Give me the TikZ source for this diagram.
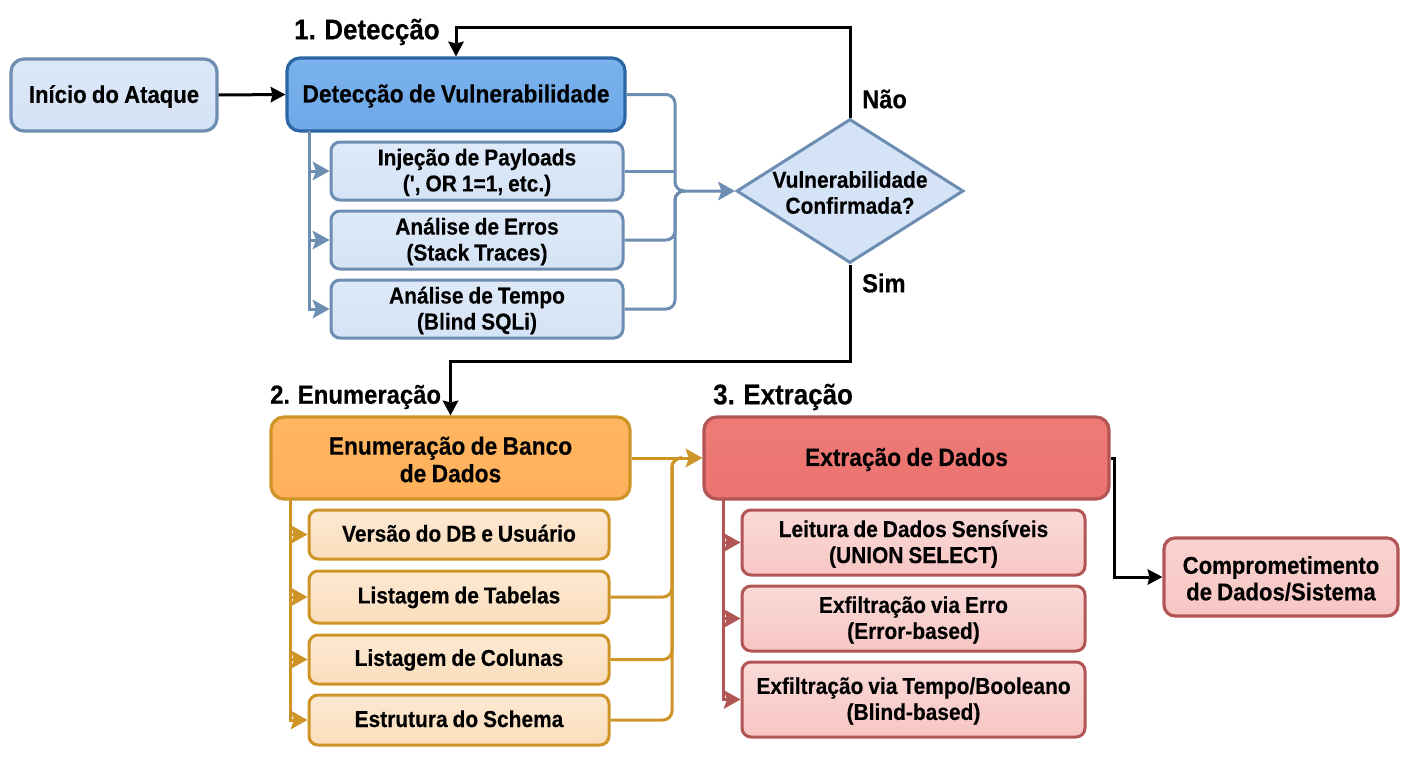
\documentclass[tikz,border=0pt]{standalone}
\usepackage{fontspec}
\setmainfont{Liberation Sans}[Ligatures=TeXOff,FakeStretch=0.91,WordSpace=0.85,BoldFeatures={FakeBold=0.3}]
\usetikzlibrary{arrows.meta,shapes.geometric,calc}
\definecolor{bl}{HTML}{6E8DB2}
\definecolor{bd}{HTML}{2A66A3}
\definecolor{og}{HTML}{CF9428}
\definecolor{rd}{HTML}{B25555}
\definecolor{blfill}{HTML}{D4E3F6}
\definecolor{ogfill}{HTML}{FBDDBB}
\definecolor{rdfill}{HTML}{F7C6C3}
\definecolor{bma}{HTML}{7AB2EE}
\definecolor{bmb}{HTML}{6FA8E8}
\definecolor{oma}{HTML}{FFB562}
\definecolor{omb}{HTML}{FFB05A}
\definecolor{rma}{HTML}{EE7A76}
\definecolor{rmb}{HTML}{EC7370}
\definecolor{cma}{HTML}{F9D2CF}
\tikzset{
 x=1pt,y=-1pt,
 main/.style={rounded corners=13pt,inner sep=0pt,line width=3.2pt},
 sub/.style={rounded corners=9pt,inner sep=0pt,line width=3pt},
 mainf/.style={align=center,inner sep=0pt,font=\fontsize{25}{27.5}\bfseries,text=black},
 endf/.style={align=center,inner sep=0pt,font=\fontsize{24.3}{26.5}\bfseries,text=black},
 subf/.style={align=center,inner sep=0pt,font=\fontsize{23}{26}\bfseries,text=black},
 lbl/.style={inner sep=0pt,font=\fontsize{28.5}{32}\bfseries,text=black},
 bsub/.style={sub,draw=bl,top color=blfill!75!white,bottom color=blfill},
 osub/.style={sub,draw=og,top color=ogfill!65!white,bottom color=ogfill},
 rsub/.style={sub,draw=rd,top color=rdfill!65!white,bottom color=rdfill},
 bconn/.style={draw=bl,line width=3pt,rounded corners=9pt},
 oconn/.style={draw=og,line width=3pt,rounded corners=9pt},
 rconn/.style={draw=rd,line width=3pt},
 barrow/.style={-{Stealth[length=17pt,width=19pt,inset=3.5pt,line width=0pt,fill=bl]}},
 oarrow/.style={-{Stealth[length=17pt,width=19pt,inset=3.5pt,line width=0pt,fill=og]}},
 rarrow/.style={-{Stealth[length=17pt,width=19pt,inset=3.5pt,line width=0pt,fill=rd]}},
 karrow/.style={draw=black,line width=3pt,-{Stealth[length=15pt,width=16pt,inset=2pt,line width=0pt]}},
}
\def\tyshift{-1.5pt}
% shape style, font style, name, x0, x1, y0, y1, text: the label sits in its own node, a little off the box centre
\newcommand{\bx}[8]{%
  \node[#1,minimum width=#5*1pt-#4*1pt,minimum height=#7*1pt-#6*1pt] (#3) at ({(#4+#5)/2},{(#6+#7)/2}) {};
  \node[#2] (#3-t) at ([yshift=\tyshift]#3.center) {#8};}
\begin{document}
\begin{tikzpicture}
\useasboundingbox (0,0) rectangle (1408,768);
\fill[white] (0,0) rectangle (1408,768);

% section labels
\node[lbl,anchor=west] (l1) at (294,32) {1. Detecção};
\node[lbl,anchor=west] (l2) at (270,397) {\fontsize{26.2}{30}\bfseries 2. Enumeração};
\node[lbl,anchor=west] (l3) at (713,397) {3. Extração};
\node[lbl,anchor=west] (ln) at (862,99) {\fontsize{26}{30}\bfseries Não};
\node[lbl,anchor=west] (ls) at (862,283) {\fontsize{26}{30}\bfseries Sim};

% nodes
\bx{main,draw=bl,top color=blfill!85!white,bottom color=blfill}{endf}{ini}{11}{217}{59}{131}{Início do Ataque}
\bx{main,draw=bd,top color=bma,bottom color=bmb}{mainf}{det}{287}{625}{58}{131}{Detecção de Vulnerabilidade}
\bx{bsub}{subf}{inj}{331}{623}{142}{200}{Injeção de Payloads\\(', OR 1=1, etc.)}
\bx{bsub}{subf}{err}{331}{623}{211}{269}{Análise de Erros\\(Stack Traces)}
\bx{bsub}{subf}{tem}{331}{623}{280}{338}{Análise de Tempo\\(Blind SQLi)}
\node[diamond,draw=bl,line width=3pt,fill=blfill,inner sep=0pt,minimum width=227pt,minimum height=144pt,aspect=1.58] (dia) at (850,191) {};
\node[subf] (dia-t) at ([yshift=-1.5pt]dia.center) {Vulnerabilidade\\Confirmada?};

\bx{main,draw=og,top color=oma,bottom color=omb}{mainf}{enu}{271}{630}{417}{499}{Enumeração de Banco\\de Dados}
\def\tyshift{1.2pt}
\bx{osub}{subf}{o1}{309}{609}{510}{559}{Versão do DB e Usuário}
\def\tyshift{-0.5pt}
\bx{osub}{subf}{o2}{309}{609}{571}{623}{Listagem de Tabelas}
\bx{osub}{subf}{o3}{309}{609}{635}{684}{Listagem de Colunas}
\def\tyshift{1.2pt}
\bx{osub}{subf}{o4}{309}{609}{695}{745}{Estrutura do Schema}
\def\tyshift{-1.5pt}

\bx{main,draw=rd,top color=rma,bottom color=rmb}{mainf}{ext}{704}{1109}{417}{499}{Extração de Dados}
\bx{rsub}{subf}{r1}{742}{1085}{510}{575}{Leitura de Dados Sensíveis\\(UNION SELECT)}
\bx{rsub}{subf}{r2}{742}{1085}{586}{651}{Exfiltração via Erro\\(Error-based)}
\bx{rsub}{subf}{r3}{742}{1085}{662}{737}{Exfiltração via Tempo/Booleano\\(Blind-based)}
\bx{main,draw=rd,top color=cma,bottom color=rdfill,rounded corners=11pt}{endf}{com}{1164}{1398}{538}{616}{Comprometimento\\de Dados/Sistema}

% helper coordinates
\coordinate (bt) at (309,131);
\coordinate (bc) at (675,191);
\coordinate (ot) at (290,499);
\coordinate (oc) at (672,458);
\coordinate (rt) at (723,499);
\coordinate (kn) at (850,28);
\coordinate (ks) at (850,361);
\coordinate (kx) at (1114,458);

% blue connectors
\foreach \n in {inj,err,tem}{\draw[bconn,barrow,rounded corners=0pt] (bt) |- (\n.west);}
\draw[bconn,barrow] (det.east) -| (bc) -- (dia.west);
\draw[bconn] (inj.east) -- (inj.east -| bc);
\draw[bconn] (err.east) -| (bc) -- ($(bc)+(10,0)$);
\draw[bconn] (tem.east) -| (bc) -- ($(bc)+(10,0)$);

% orange connectors
\foreach \n in {o1,o2,o3,o4}{\draw[oconn,oarrow,rounded corners=0pt] (ot) |- (\n.west);}
\draw[oconn,oarrow] (enu.east) -- (ext.west);
\draw[oconn] (o2.east) -| (oc) -- ($(oc)+(10,0)$);
\draw[oconn] (o3.east) -| (oc) -- ($(oc)+(10,0)$);
\draw[oconn] (o4.east) -| (oc) -- ($(oc)+(10,0)$);

% red connectors
\foreach \n in {r1,r2,r3}{\draw[rconn,rarrow] (rt) |- (\n.west);}

% black connectors
\draw[karrow] (ini.east) -- (det.west);
\draw[karrow] (dia.north) -- (kn) -| (det.north);
\draw[karrow] (dia.south) -- (ks) -| (enu.north);
\draw[karrow] (ext.east) -- (kx) |- (com.west);
\end{tikzpicture}
\end{document}
